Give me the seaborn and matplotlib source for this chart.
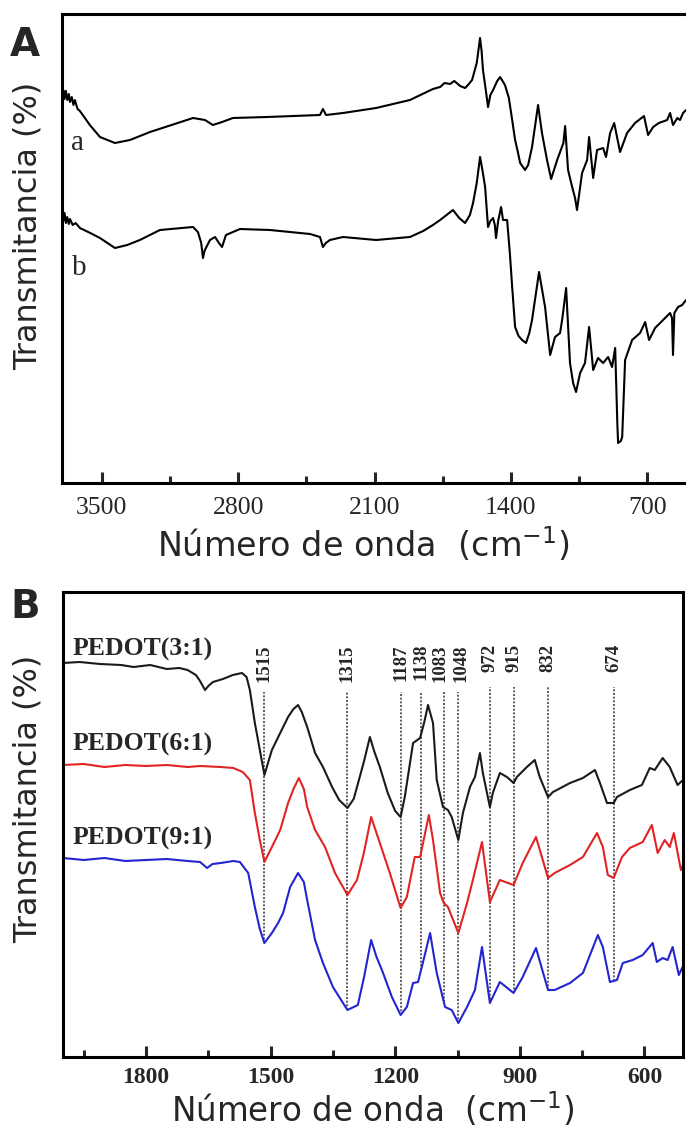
import matplotlib
matplotlib.use('Agg')
import numpy as np
import matplotlib.pyplot as plt
import matplotlib.transforms as mtransforms
import seaborn as sns
from matplotlib.ticker import FixedLocator

# Panel A - spectra a and b (wavenumber in cm-1, transmittance in arbitrary units)
wn_a = [3705, 3698, 3692, 3685, 3678, 3670, 3664, 3655, 3646, 3639, 3625, 3613, 3562, 3510, 3433, 3356,
        3253, 3032, 2971, 2930, 2883, 2827, 2652, 2380, 2365, 2349, 2262, 2092, 1918, 1800, 1763, 1740,
        1712, 1690, 1660, 1635, 1620, 1599, 1575, 1558, 1550, 1543, 1530, 1517, 1505, 1491, 1470, 1455,
        1430, 1410, 1393, 1378, 1365, 1352, 1327, 1311, 1291, 1260, 1240, 1214, 1193, 1162, 1147, 1130,
        1121, 1106, 1085, 1070, 1060, 1034, 1008, 998, 977, 957, 926, 911, 890, 869, 839, 803, 762, 716,
        695, 669, 640, 597, 582, 567, 545, 531, 515, 500]
t_a = [388, 393, 384, 392, 383, 389, 381, 386, 378, 383, 374, 372, 358, 346, 340, 343,
       351, 365, 363, 358, 361, 365, 366, 368, 374, 368, 370, 375, 383, 394, 396, 400,
       399, 402, 397, 395, 398, 403, 420, 445, 432, 413, 395, 376, 388, 393, 402, 406,
       398, 385, 363, 343, 332, 320, 313, 318, 336, 378, 350, 323, 304, 323, 331, 340,
       357, 313, 296, 285, 273, 310, 323, 346, 305, 333, 335, 326, 350, 360, 331, 350, 360, 367,
       348, 356, 360, 363, 370, 358, 365, 363, 370, 373]

wn_b = [3705, 3698, 3692, 3685, 3678, 3670, 3664, 3650, 3635, 3613, 3560, 3510, 3433, 3370, 3305, 3202,
        3032, 3007, 2990, 2981, 2973, 2966, 2945, 2919, 2899, 2883, 2863, 2791, 2637, 2431, 2380, 2365,
        2350, 2329, 2262, 2092, 1918, 1850, 1800, 1763, 1730, 1697, 1665, 1635, 1610, 1594, 1575, 1558,
        1545, 1532, 1517, 1505, 1491, 1482, 1476, 1465, 1450, 1440, 1419, 1405, 1393, 1378, 1360, 1342,
        1322, 1305, 1291, 1255, 1224, 1198, 1173, 1147, 1135, 1116, 1096, 1080, 1065, 1044, 1019, 998,
        977, 952, 926, 900, 880, 864, 853, 849, 835, 828, 813, 777, 736, 710, 690, 659, 618, 582, 572,
        567, 560, 541, 520, 500]
t_b = [268, 262, 270, 260, 266, 259, 264, 258, 260, 255, 250, 245, 235, 238, 243, 253,
       256, 251, 240, 225, 232, 235, 243, 246, 240, 236, 248, 254, 253, 249, 246, 236,
       240, 243, 246, 243, 246, 252, 258, 263, 268, 273, 265, 260, 268, 280, 300, 326,
       312, 296, 256, 262, 265, 258, 245, 262, 276, 263, 263, 230, 196, 156, 147, 143,
       140, 150, 163, 211, 176, 128, 146, 150, 165, 195, 120, 100, 91, 110, 120, 156,
       113, 125, 120, 126, 116, 135, 60, 40, 42, 46, 123, 143, 150, 161, 143, 155, 163, 170, 165,
       128, 170, 176, 178, 183]

# Panel B - PEDOT spectra
wn_31 = [2000, 1960, 1911, 1860, 1830, 1790, 1750, 1720, 1700, 1680, 1670, 1658, 1650, 1639, 1615, 1591,
         1569, 1558, 1550, 1538, 1526, 1515, 1497, 1477, 1458, 1445, 1434, 1425, 1412, 1393, 1374, 1352,
         1335, 1315, 1300, 1292, 1275, 1261, 1250, 1237, 1218, 1200, 1187, 1177, 1157, 1140, 1130, 1121,
         1109, 1100, 1085, 1073, 1064, 1048, 1037, 1020, 1008, 996, 989, 972, 965, 948, 931, 915, 907,
         883, 864, 852, 832, 820, 779, 748, 719, 707, 690, 674, 666, 635, 606, 587, 575, 556, 539, 520,
         507, 500]
t_31 = [394, 395, 393, 392, 390, 392, 388, 389, 387, 382, 376, 367, 371, 375, 378, 382,
        384, 380, 367, 334, 307, 282, 307, 324, 340, 348, 352, 345, 330, 304, 290, 270,
        257, 249, 258, 270, 296, 320, 305, 290, 264, 246, 240, 260, 314, 319, 335, 352,
        334, 277, 250, 247, 240, 217, 244, 270, 280, 304, 284, 250, 264, 284, 280, 274, 280,
        290, 297, 280, 260, 265, 274, 279, 287, 274, 254, 254, 260, 267, 272, 289, 287, 299, 290, 272,
        277, 279]

wn_61 = [2000, 1950, 1900, 1850, 1800, 1750, 1700, 1670, 1620, 1590, 1567, 1550, 1538, 1526, 1515, 1497,
         1477, 1458, 1445, 1432, 1420, 1412, 1393, 1369, 1345, 1315, 1292, 1275, 1258, 1237, 1213, 1187,
         1172, 1153, 1140, 1130, 1119, 1109, 1092, 1083, 1073, 1048, 1027, 1013, 991, 972, 948, 915, 893,
         861, 832, 816, 779, 748, 714, 700, 688, 674, 654, 635, 604, 582, 568, 551, 539, 529, 512, 500]
t_61 = [292, 293, 290, 292, 291, 292, 290, 291, 290, 289, 285, 277, 244, 217, 195, 210,
        227, 254, 268, 279, 268, 250, 227, 210, 184, 162, 177, 205, 240, 214, 184, 149,
        160, 200, 200, 220, 242, 217, 164, 154, 150, 124, 154, 177, 215, 155, 177, 172, 194,
        220, 179, 184, 192, 200, 224, 210, 182, 179, 200, 209, 215, 232, 204, 217, 210, 224, 187, 199]

wn_91 = [2000, 1950, 1900, 1850, 1800, 1750, 1700, 1670, 1653, 1640, 1620, 1590, 1574, 1554, 1538, 1526,
         1515, 1497, 1482, 1470, 1453, 1434, 1420, 1412, 1393, 1374, 1350, 1315, 1290, 1275, 1258, 1245,
         1232, 1208, 1187, 1172, 1157, 1145, 1130, 1116, 1100, 1080, 1064, 1048, 1027, 1008, 991, 972,
         948, 915, 893, 861, 832, 816, 779, 748, 712, 700, 683, 666, 652, 628, 604, 580, 570, 556, 544,
         532, 517, 500]
t_91 = [199, 197, 199, 196, 197, 198, 196, 195, 189, 193, 194, 196, 195, 184, 150, 128,
        114, 124, 134, 144, 170, 184, 175, 157, 117, 94, 70, 47, 52, 80, 117, 100,
        87, 60, 42, 50, 74, 75, 100, 124, 84, 50, 47, 34, 50, 67, 110, 54,
        75, 64, 80, 109, 67, 67, 74, 84, 122, 110, 75, 77, 94, 97, 102, 114, 95, 99, 97,
        110, 82, 97]

samples = ['PEDOT(3:1)', 'PEDOT(6:1)', 'PEDOT(9:1)']
colors = ['#1a1a1a', '#e02424', '#2424d0']
peaks = [1515, 1315, 1187, 1138, 1083, 1048, 972, 915, 832, 674]
ticks_a = [3500, 2800, 2100, 1400, 700]
minor_a = [3150, 2450, 1750, 1050]
ticks_b = [1800, 1500, 1200, 900, 600]
minor_b = [1950, 1650, 1350, 1050, 750]

sns.set_style('white')
plt.rcParams['font.family'] = ['DejaVu Sans']
serif = 'Liberation Serif'

W, H = 686, 1131
fig = plt.figure(figsize=(W / 100, H / 100), dpi=100)

def px_axes(l, t, r, b):
    return fig.add_axes([l / W, 1 - b / H, (r - l) / W, (b - t) / H])

# ---------- Panel A ----------
axA = px_axes(62, 14, 688, 483)
sns.lineplot(x=wn_a, y=t_a, ax=axA, color='black', lw=1.5, estimator=None)
sns.lineplot(x=wn_b, y=t_b, ax=axA, color='black', lw=1.5, estimator=None)
axA.set_xlim(3705, 490)
axA.set_ylim(0, 469)
axA.text(3623, 340, 'a', family=serif, fontsize=21, ha='center', va='center')
axA.text(3618, 215, 'b', family=serif, fontsize=21, ha='center', va='center')

# ---------- Panel B ----------
axB = px_axes(63, 592, 683, 1057)
for wn, t, c in zip([wn_31, wn_61, wn_91], [t_31, t_61, t_91], colors):
    sns.lineplot(x=wn, y=t, ax=axB, color=c, lw=1.5, estimator=None)
axB.set_xlim(2000, 507)
axB.set_ylim(0, 465)

for name, yy in zip(samples, [408, 313, 219]):
    axB.text(1976, yy, name, family=serif, fontweight='bold', fontsize=18.5, ha='left', va='center')

wn_sorted = np.array(wn_91[::-1])
t_sorted = np.array(t_91[::-1])
# the two crowded labels are nudged apart, as in the original figure
nudge = {1083: -4, 1048: 3}
for p in peaks:
    bottom = np.interp(p, wn_sorted, t_sorted)
    top = 365 if p >= 1000 else 370
    axB.plot([p, p], [bottom, top], ls=(0, (1.2, 1.0)), color='#444444', lw=1.2, zorder=1)
    tr = mtransforms.offset_copy(axB.transData, fig=fig, x=nudge.get(p, 0), y=0, units='dots')
    axB.text(p, 413, str(p), family=serif, fontweight='bold', fontsize=13.5,
             rotation=90, ha='center', va='top', transform=tr)

for ax, ticks, minor, bold in [(axA, ticks_a, minor_a, False), (axB, ticks_b, minor_b, True)]:
    ax.xaxis.set_major_locator(FixedLocator(ticks))
    ax.xaxis.set_minor_locator(FixedLocator(minor))
    ax.set_yticks([])
    ax.tick_params(axis='x', which='major', direction='in', length=8, width=2.2,
                   bottom=True, top=False, pad=7 if bold else 10)
    ax.tick_params(axis='x', which='minor', direction='in', length=5, width=2.2,
                   bottom=True, top=False)
    for lab in ax.get_xticklabels():
        lab.set_family(serif)
        lab.set_fontsize(17 if bold else 18.5)
        lab.set_fontweight('bold' if bold else 'normal')
    for s in ax.spines.values():
        s.set_linewidth(2.2)
        s.set_color('black')
    ax.set_xlabel('')
    ax.set_ylabel('')

# labels
fig.text(25 / W, 1 - 45 / H, 'A', fontsize=28, fontweight='bold', ha='center', va='center')
fig.text(25 / W, 1 - 607 / H, 'B', fontsize=28, fontweight='bold', ha='center', va='center')
fig.text(28 / W, 1 - 226 / H, 'Transmitancia (%)', fontsize=23, rotation=90, ha='center', va='center')
fig.text(28 / W, 1 - 799 / H, 'Transmitancia (%)', fontsize=23, rotation=90, ha='center', va='center')
fig.text(363 / W, 1 - 545 / H, 'Número de onda  (cm$^{-1}$)', fontsize=24, ha='center', va='center')
fig.text(373 / W, 1 - 1110 / H, 'Número de onda  (cm$^{-1}$)', fontsize=23.5, ha='center', va='center')

fig.savefig('out.png', dpi=100, facecolor='white')
